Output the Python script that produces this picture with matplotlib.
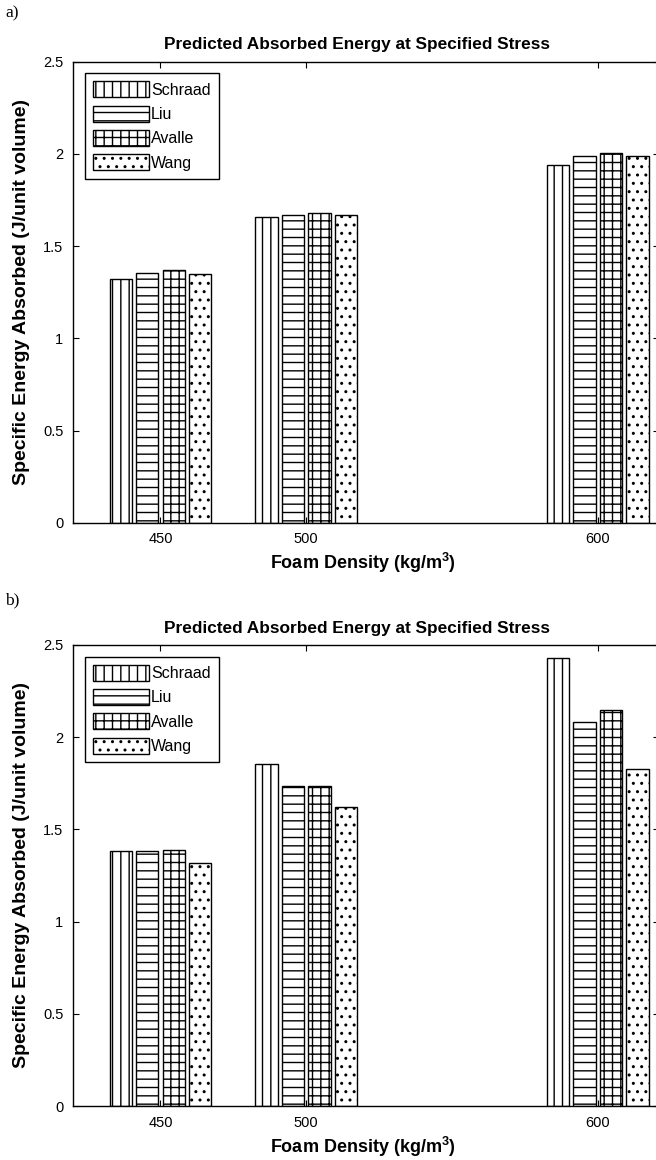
import matplotlib
matplotlib.use("Agg")
import matplotlib.pyplot as plt
import numpy as np

densities = [450, 500, 600]
series_names = ["Schraad", "Liu", "Avalle", "Wang"]
panel_a = {
    "Schraad": [1.32, 1.66, 1.94],
    "Liu":     [1.355, 1.67, 1.99],
    "Avalle":  [1.37, 1.68, 2.005],
    "Wang":    [1.35, 1.67, 1.99],
}
panel_b = {
    "Schraad": [1.385, 1.855, 2.43],
    "Liu":     [1.385, 1.735, 2.085],
    "Avalle":  [1.39, 1.735, 2.15],
    "Wang":    [1.32, 1.62, 1.83],
}
yticks = [0, 0.5, 1, 1.5, 2, 2.5]
ytick_labels = ["0", "0.5", "1", "1.5", "2", "2.5"]
title = "Predicted Absorbed Energy at Specified Stress"
xlabel = "Foam Density (kg/m$^\\mathregular{3}$)"
ylabel = "Specific Energy Absorbed (J/unit volume)"
panel_tags = ["a)", "b)"]

hatches = {"Schraad": "||", "Liu": "--", "Avalle": "++", "Wang": ".."}
offsets = [-13.65, -4.55, 4.55, 13.65]
bar_w = 7.6

plt.rcParams['font.family'] = ['Liberation Sans Narrow', 'Liberation Sans', 'DejaVu Sans']
plt.rcParams['hatch.linewidth'] = 1.0

fig = plt.figure(figsize=(6.56, 11.6), dpi=100)
W, H = 656, 1160

def make_axes(top_px, bottom_px):
    left = 73 / W
    right = 659 / W
    return fig.add_axes([left, 1 - bottom_px / H, right - left, (bottom_px - top_px) / H])

layouts = [(61.7, 522.7, 13, 44, 563), (645, 1106, 600, 628, 1147)]
datas = [panel_a, panel_b]

for (top, bot, tag_y, title_y, xl_y), data, tag in zip(layouts, datas, panel_tags):
    ax = make_axes(top, bot)
    x = np.array(densities, dtype=float)
    for name, off in zip(series_names, offsets):
        ax.bar(x + off, data[name], width=bar_w, facecolor='white',
               edgecolor='black', hatch=hatches[name], linewidth=1.0, label=name)
    ax.set_xlim(420, 621)
    ax.set_ylim(0, 2.5)
    ax.set_xticks(densities)
    ax.set_xticklabels([str(d) for d in densities], fontsize=10.5)
    ax.set_yticks(yticks)
    ax.set_yticklabels(ytick_labels, fontsize=10.5)
    ax.tick_params(direction='in', top=True, right=True, length=4, width=0.8, pad=7)
    for s in ax.spines.values():
        s.set_linewidth(1.0)
    leg = ax.legend(loc='upper left', bbox_to_anchor=(0.012, 0.985), fontsize=11.5,
                    fancybox=False, edgecolor='black', framealpha=1,
                    handlelength=3.5, handleheight=1.15, labelspacing=0.5,
                    handletextpad=0.15, borderpad=0.5, borderaxespad=0.3)
    leg.get_frame().set_linewidth(1.0)
    fig.text(5 / W, 1 - tag_y / H, tag, family='Liberation Serif', fontsize=12.5,
             ha='left', va='center')
    fig.text(357 / W, 1 - title_y / H, title, fontsize=12.4, fontweight='bold',
             ha='center', va='center')
    fig.text(363 / W, 1 - xl_y / H, xlabel, fontsize=13, fontweight='bold',
             ha='center', va='center')
    fig.text(22 / W, 1 - ((top + bot) / 2) / H, ylabel, fontsize=14, fontweight='bold',
             ha='center', va='center', rotation=90)

fig.savefig("out.png", dpi=100)
